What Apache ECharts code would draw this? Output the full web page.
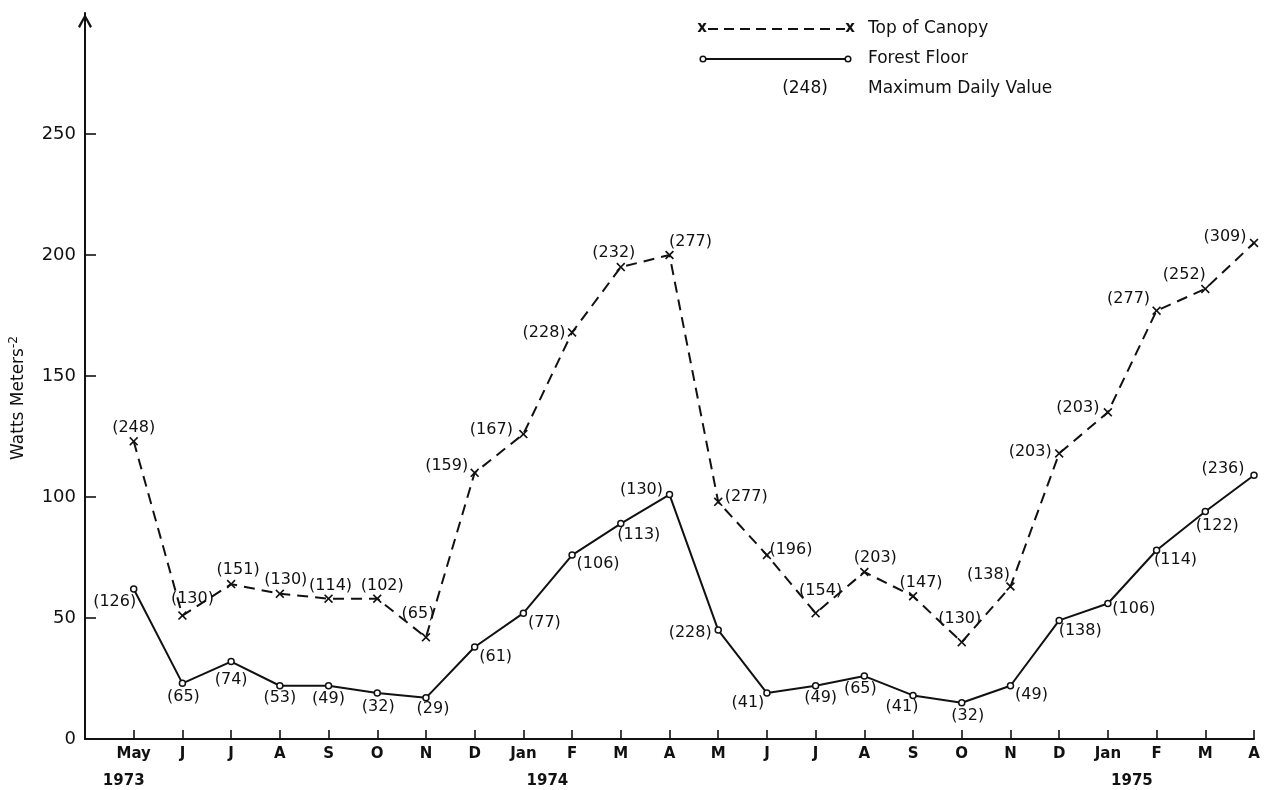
<!DOCTYPE html>
<html><head><meta charset="utf-8">
<script src="https://cdn.jsdelivr.net/npm/echarts@6/dist/echarts.min.js"></script>
<style>html,body{margin:0;padding:0;background:#fff}#c{width:1267px;height:790px}</style>
</head><body><div id="c"></div>
<script>
// ---- data ----
const months = ['', 'May','J','J','A','S','O','N','D','Jan','F','M','A','M','J','J','A','S','O','N','D','Jan','F','M','A'];
const years  = ['', '1973','','','','','','','','1974','','','','','','','','','','','','1975','','',''];
const canopy = [null,123,51,64,60,58,58,42,110,126,168,195,200,98,76,52,69,59,40,63,118,135,177,186,205];
const floor  = [null,62,23,32,22,22,19,17,38,52,76,89,101,45,19,22,26,18,15,22,49,56,78,94,109];
const canopyMax = [null,248,130,151,130,114,102,65,159,167,228,232,277,277,196,154,203,147,130,138,203,203,277,252,309];
const floorMax  = [null,126,65,74,53,49,32,29,61,77,106,113,130,228,41,49,65,41,32,49,138,106,114,122,236];
const yTicks = [0,50,100,150,200,250];

// ---- label placement (style) ----
const canopyOff = [[0,0],[0,-13],[10,-17],[7,-14],[6,-14],[2,-13],[5,-13],[-8,-24],[-28,-7],[-32,-4],[-28,0],[-7,-14],
  [21,-13],[28,-5],[24,-5],[5,-22],[11,-14],[8,-13],[-2,-23],[-22,-12],[-29,-2],[-30,-4],[-28,-12],[-21,-14],[-29,-6]];
const floorOff = [[0,0],[-19,13],[1,14],[0,18],[0,12],[0,13],[1,14],[7,11],[21,10],[21,10],[26,9],[18,11],
  [-28,-5],[-28,3],[-19,10],[5,12],[-4,13],[-11,11],[6,13],[21,9],[21,10],[26,5],[19,10],[12,14],[-31,-6]];

const FONT = 'DejaVu Sans';
const INK = '#111';
const xSym = 'path://M0,1.3L1.3,0L5,3.7L8.7,0L10,1.3L6.3,5L10,8.7L8.7,10L5,6.3L1.3,10L0,8.7L3.7,5Z';

function build(vals, maxes, offs) {
  return vals.map((v, i) => ({
    value: v,
    label: { offset: offs[i], formatter: maxes[i] == null ? '' : '(' + maxes[i] + ')' }
  }));
}
const labelBase = { show: true, position: 'inside', align: 'center', verticalAlign: 'middle',
  color: INK, fontFamily: FONT, fontSize: 16 };

const chart = echarts.init(document.getElementById('c'), null, { renderer: 'canvas' });
chart.setOption({
  animation: false,
  backgroundColor: '#fff',
  grid: { left: 85, right: 13, top: 13, bottom: 51, outerBoundsMode: 'none' },
  xAxis: {
    type: 'category', data: months, boundaryGap: false,
    axisLine: { lineStyle: { color: INK, width: 2 } },
    axisTick: { inside: true, length: 9, interval: 0, lineStyle: { color: INK, width: 1.6 } },
    axisLabel: {
      interval: 0, margin: 2, color: INK, fontFamily: FONT, fontSize: 15, fontWeight: 'bold', lineHeight: 27,
      formatter: (v, i) => {
        const y = years[i];
        if (!y) return v;
        const k = y === '1973' ? 'ya' : 'yb';
        return v + '\n{' + k + '|' + y + '}';
      },
      rich: {
        ya: { fontFamily: FONT, fontSize: 15, fontWeight: 'bold', color: INK, lineHeight: 27, padding: [0, 20, 0, 0] },
        yb: { fontFamily: FONT, fontSize: 15, fontWeight: 'bold', color: INK, lineHeight: 27, padding: [0, 0, 0, 48] }
      }
    },
    splitLine: { show: false }
  },
  yAxis: {
    type: 'value', min: 0, max: 300, interval: 50,
    name: 'Watts Meters{sup|-2}', nameLocation: 'middle', nameRotate: 90, nameGap: 56,
    nameTextStyle: { color: INK, fontFamily: FONT, fontSize: 17, padding: [0, 44, 0, 0],
      rich: { sup: { fontFamily: FONT, fontSize: 12, color: INK, verticalAlign: 'bottom', padding: [0, 0, 9, 0] } } },
    axisLine: { show: true, lineStyle: { color: INK, width: 2 },
      symbol: ['none', 'path://M5,0L10,9L8.6,10L5,3L1.4,10L0,9Z'], symbolSize: [14, 16], symbolOffset: [0, -8] },
    axisTick: { show: true, inside: true, length: 11, customValues: yTicks, lineStyle: { color: INK, width: 1.6 } },
    axisLabel: { color: INK, fontFamily: FONT, fontSize: 18, margin: 9, customValues: yTicks },
    splitLine: { show: false }
  },
  series: [
    {
      name: 'Top of Canopy', type: 'line', data: build(canopy, canopyMax, canopyOff),
      symbol: xSym, symbolSize: 9, showAllSymbol: true,
      itemStyle: { color: INK },
      lineStyle: { color: INK, width: 2, type: [11, 7] },
      label: labelBase, z: 3
    },
    {
      name: 'Forest Floor', type: 'line', data: build(floor, floorMax, floorOff),
      symbol: 'circle', symbolSize: 6, showAllSymbol: true,
      itemStyle: { color: '#fff', borderColor: INK, borderWidth: 1.5 },
      lineStyle: { color: INK, width: 2 },
      label: labelBase, z: 3
    }
  ],
  graphic: [
    { type: 'line', shape: { x1: 708, y1: 29, x2: 845, y2: 29 }, style: { stroke: INK, lineWidth: 2, lineDash: [10, 6] } },
    { type: 'text', x: 702, y: 28, style: { text: 'x', font: 'bold 15px ' + FONT, fill: INK, align: 'center', verticalAlign: 'middle' } },
    { type: 'text', x: 850, y: 28, style: { text: 'x', font: 'bold 15px ' + FONT, fill: INK, align: 'center', verticalAlign: 'middle' } },
    { type: 'text', x: 868, y: 29, style: { text: 'Top of Canopy', font: '17px ' + FONT, fill: INK, verticalAlign: 'middle' } },
    { type: 'line', shape: { x1: 706, y1: 59, x2: 845, y2: 59 }, style: { stroke: INK, lineWidth: 2 } },
    { type: 'circle', shape: { cx: 703, cy: 59, r: 2.8 }, style: { fill: '#fff', stroke: INK, lineWidth: 1.5 } },
    { type: 'circle', shape: { cx: 848, cy: 59, r: 2.8 }, style: { fill: '#fff', stroke: INK, lineWidth: 1.5 } },
    { type: 'text', x: 868, y: 59, style: { text: 'Forest Floor', font: '17px ' + FONT, fill: INK, verticalAlign: 'middle' } },
    { type: 'text', x: 805, y: 89, style: { text: '(248)', font: '17px ' + FONT, fill: INK, align: 'center', verticalAlign: 'middle' } },
    { type: 'text', x: 868, y: 89, style: { text: 'Maximum Daily Value', font: '17px ' + FONT, fill: INK, verticalAlign: 'middle' } }
  ]
});
</script>
</body></html>
